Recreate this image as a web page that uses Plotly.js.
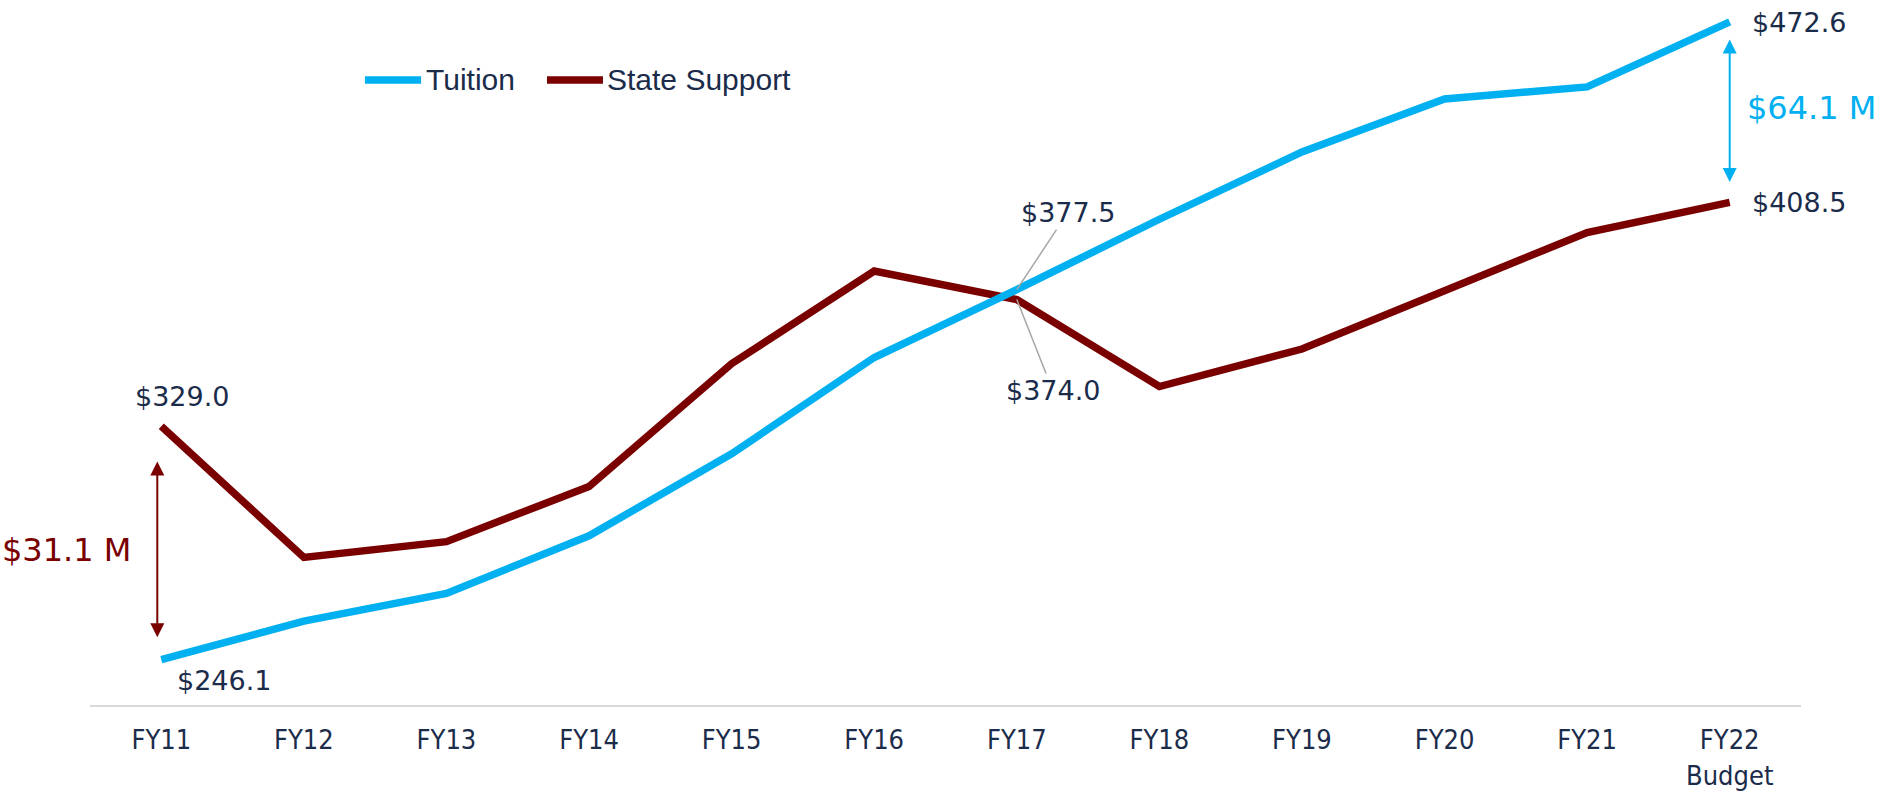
<!DOCTYPE html>
<html>
<head>
<meta charset="utf-8">
<script src="https://cdn.plot.ly/plotly-3.0.1.min.js"></script>
<style>html,body{margin:0;padding:0;background:#fff;}#chart{width:1887px;height:795px;}</style>
</head>
<body>
<div id="chart"></div>
<script>
const categories = ["FY11","FY12","FY13","FY14","FY15","FY16","FY17","FY18","FY19","FY20","FY21","FY22<br>Budget"];
const tuition = [246.1, 259.8, 269.6, 290.1, 319.2, 353.4, 377.5, 402.5, 426.4, 445.2, 449.5, 472.6];
const stateSupport = [329.0, 282.4, 288.0, 307.6, 351.2, 384.1, 374.0, 343.1, 356.4, 376.9, 397.8, 408.5];
const tuitionGap = "$64.1 M";
const stateGap = "$31.1 M";

const NAVY = "#1b2c4b";
const BLUE = "#00b0f0";
const RED = "#7a0000";
const LABEL_FONT = {family: "DejaVu Sans, Liberation Sans, sans-serif", size: 27, color: NAVY};
const last = categories.length - 1;
const fmt = v => "$" + v.toFixed(1);

const traces = [
  {x: categories, y: stateSupport, type: "scatter", mode: "lines", name: "State Support",
   line: {color: RED, width: 7.5}, showlegend: false, hoverinfo: "skip"},
  {x: categories, y: tuition, type: "scatter", mode: "lines", name: "Tuition",
   line: {color: BLUE, width: 7.5}, showlegend: false, hoverinfo: "skip"}
];

const annotations = [
  {x: 0, y: stateSupport[0], text: fmt(stateSupport[0]), showarrow: false, xshift: 21, yshift: 30, font: LABEL_FONT},
  {x: 0, y: tuition[0], text: fmt(tuition[0]), showarrow: false, xshift: 63, yshift: -21, font: LABEL_FONT},
  {x: last, y: tuition[last], text: fmt(tuition[last]), showarrow: false, xanchor: "left", xshift: 20, yshift: -1, font: LABEL_FONT},
  {x: last, y: stateSupport[last], text: fmt(stateSupport[last]), showarrow: false, xanchor: "left", xshift: 20, yshift: 0, font: LABEL_FONT},
  {x: 6, y: tuition[6], text: fmt(tuition[6]), showarrow: true, arrowhead: 0, arrowwidth: 1.5, arrowcolor: "#a6a6a6",
   ax: 51, ay: -77, standoff: 0, font: LABEL_FONT},
  {x: 6, y: stateSupport[6], text: fmt(stateSupport[6]), showarrow: true, arrowhead: 0, arrowwidth: 1.5, arrowcolor: "#a6a6a6",
   ax: 36, ay: 91, standoff: 0, font: LABEL_FONT},
  // gap arrows
  {x: last, y: stateSupport[last] + 7.2, ax: last, ay: tuition[last] - 5.7, axref: "x", ayref: "y",
   text: "", showarrow: true, arrowside: "end+start", arrowhead: 2, arrowsize: 1.4, arrowwidth: 2, arrowcolor: BLUE},
  {x: 0, y: tuition[0] + 8.0, ax: 0, ay: stateSupport[0] - 12.0, axref: "x", ayref: "y", xshift: -4,
   text: "", showarrow: true, arrowside: "end+start", arrowhead: 2, arrowsize: 1.4, arrowwidth: 2, arrowcolor: RED},
  {x: last, y: (tuition[last] + stateSupport[last]) / 2 + 1.5, text: tuitionGap, showarrow: false, xanchor: "left", xshift: 15,
   font: {family: "DejaVu Sans, Liberation Sans, sans-serif", size: 32, color: BLUE}},
  {x: 0, y: (tuition[0] + stateSupport[0]) / 2 - 2.5, text: stateGap, showarrow: false, xanchor: "right", xshift: -28,
   font: {family: "DejaVu Sans, Liberation Sans, sans-serif", size: 32, color: RED}},
  // legend text
  {xref: "paper", yref: "paper", x: 0.1952, y: 0.8878, xanchor: "left", yanchor: "middle", text: "Tuition", showarrow: false,
   font: {family: "Liberation Sans, Arial, sans-serif", size: 30, color: NAVY}},
  {xref: "paper", yref: "paper", x: 0.3010, y: 0.8878, xanchor: "left", yanchor: "middle", text: "State Support", showarrow: false,
   font: {family: "Liberation Sans, Arial, sans-serif", size: 30, color: NAVY}}
];

const shapes = [
  {type: "line", xref: "paper", yref: "paper", x0: 0.1607, x1: 0.1935, y0: 0.8878, y1: 0.8878, line: {color: BLUE, width: 7.5}},
  {type: "line", xref: "paper", yref: "paper", x0: 0.2671, x1: 0.2998, y0: 0.8878, y1: 0.8878, line: {color: RED, width: 7.5}}
];

const layout = {
  width: 1887, height: 795,
  margin: {l: 90, r: 86, t: 1, b: 90},
  paper_bgcolor: "#ffffff", plot_bgcolor: "#ffffff",
  showlegend: false,
  xaxis: {type: "category", range: [-0.5, 11.5], showgrid: false, zeroline: false,
          showline: true, linecolor: "#d9d9d9", linewidth: 2, ticks: "", ticklabelstandoff: 10,
          tickfont: {family: "Liberation Sans Narrow, DejaVu Sans Condensed, Roboto, sans-serif", size: 27, color: NAVY}},
  yaxis: {range: [230, 480], showgrid: false, zeroline: false, showline: false, showticklabels: false, ticks: ""},
  annotations: annotations,
  shapes: shapes
};

Plotly.newPlot("chart", traces, layout, {displayModeBar: false, staticPlot: true});
</script>
</body>
</html>
